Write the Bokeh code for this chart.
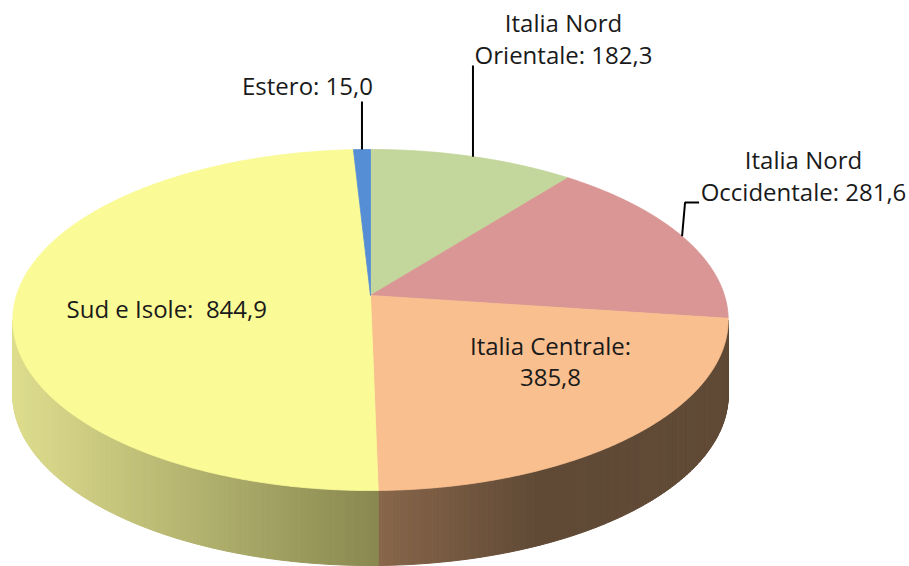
import numpy as np
from bokeh.plotting import figure
from bokeh.models import Range1d
from bokeh.core.properties import value
from bokeh.embed import file_html
from bokeh.resources import INLINE

# ---- data (clockwise from 12 o'clock) ----
categories = ["Italia Nord Orientale", "Italia Nord Occidentale", "Italia Centrale", "Sud e Isole", "Estero"]
values = [182.3, 281.6, 385.8, 844.9, 15.0]
label_line1 = ["Italia Nord", "Italia Nord", "Italia Centrale:", "Sud e Isole:\u00a0 844,9", "Estero: 15,0"]
label_line2 = ["Orientale: 182,3", "Occidentale: 281,6", "385,8", "", ""]
top_colors = ["#C3D69B", "#D99694", "#F9BF8F", "#FAFA96", "#558ED5"]
# side gradient colours (left end, right end)
side_left = [(150, 165, 110), (150, 95, 95), (136, 102, 74), (222, 221, 142), (60, 90, 140)]
side_right = [(120, 135, 85), (120, 75, 75), (96, 74, 54), (136, 136, 80), (50, 75, 120)]

# label layout (screen pixels): anchor x, baseline y of first line, alignment
label_x = [563, 803, 550, 66, 307]
label_y = [32, 169, 355, 318, 95]
label_align = ["center", "center", "center", "left", "center"]
LINE_GAP = 32
TEXT_SHIFT = -10

# ---- pie geometry (perspective disc) ----
CX, CY = 370.0, 295.0
A, B, K = 354.0, 167.0, 0.1437
DEPTH = 75.0


def rim(phi_deg):
    ph = np.radians(phi_deg)
    u, v = np.sin(ph), np.cos(ph)
    den = 1 + K * v
    return CX + A * u / den, CY - B * v / den


W, H = 909, 566
p = figure(width=W, height=H, x_range=Range1d(0, W), y_range=Range1d(H, 0),
           output_backend="svg", toolbar_location=None, min_border=0)
p.axis.visible = False
p.xgrid.visible = False
p.ygrid.visible = False
p.outline_line_color = None
p.background_fill_color = "white"
p.border_fill_color = "white"

total = sum(values)
bounds = np.concatenate([[0], np.cumsum(values) / total * 360.0])

# ---- side walls ----
vis0 = np.degrees(np.arccos(-K))
vis1 = 360 - vis0
sxs, sys, scol = [], [], []
for i in range(len(values)):
    a0, a1 = max(bounds[i], vis0), min(bounds[i + 1], vis1)
    if a1 <= a0:
        continue
    n = max(2, int((a1 - a0) / 0.5) + 1)
    angs = np.linspace(a0, a1, n)
    xr, yr = rim(angs)
    xmin, xmax = xr.min(), xr.max()
    for j in range(n - 1):
        xs = [xr[j], xr[j + 1], xr[j + 1], xr[j]]
        ys = [yr[j], yr[j + 1], yr[j + 1] + DEPTH, yr[j] + DEPTH]
        xm = 0.5 * (xr[j] + xr[j + 1])
        t = 0.0 if xmax == xmin else (xm - xmin) / (xmax - xmin)
        if i == 2:
            t = min(1.0, t * 2.2)
        c = tuple(int(round(side_left[i][k] + (side_right[i][k] - side_left[i][k]) * t)) for k in range(3))
        col = "#%02x%02x%02x" % c
        sxs.append(xs); sys.append(ys); scol.append(col)
p.patches(sxs, sys, fill_color=scol, line_color=scol, line_width=1)

# ---- top faces ----
txs, tys = [], []
for i in range(len(values)):
    n = max(3, int((bounds[i + 1] - bounds[i]) / 0.5) + 1)
    angs = np.linspace(bounds[i], bounds[i + 1], n)
    xr, yr = rim(angs)
    txs.append([CX] + list(xr))
    tys.append([CY] + list(yr))
p.patches(txs, tys, fill_color=top_colors, line_color=top_colors, line_width=0.8)

# ---- leader lines (from slice mid-angle on rim to label) ----
mids = 0.5 * (bounds[:-1] + bounds[1:])
# Orientale
x0, y0 = rim(mids[0])
p.line([x0, x0], [y0, label_y[0] + LINE_GAP + 1], line_color="black", line_width=2)
# Estero
x4, y4 = rim(mids[4])
p.line([x4, x4], [y4, label_y[4] + 6], line_color="black", line_width=2)
# Occidentale
x1, y1 = rim(mids[1])
p.line([x1, x1 + 3, x1 + 17], [y1, label_y[1] + 33, label_y[1] + 33], line_color="black", line_width=2)

# ---- labels ----
tx, ty, tt, ta = [], [], [], []
for i in range(len(values)):
    tx.append(label_x[i]); ty.append(label_y[i] + TEXT_SHIFT); tt.append(label_line1[i]); ta.append(label_align[i])
    if label_line2[i]:
        tx.append(label_x[i]); ty.append(label_y[i] + LINE_GAP + TEXT_SHIFT); tt.append(label_line2[i]); ta.append(label_align[i])
for al in ("left", "center"):
    idx = [k for k in range(len(tt)) if ta[k] == al]
    p.text(x=[tx[k] for k in idx], y=[ty[k] for k in idx], text=[tt[k] for k in idx],
           text_font=value("Open Sans"), text_font_size="24px", text_color="#1a1a1a",
           text_align=al, text_baseline="alphabetic")

open("out.html", "w").write(file_html(p, INLINE))
